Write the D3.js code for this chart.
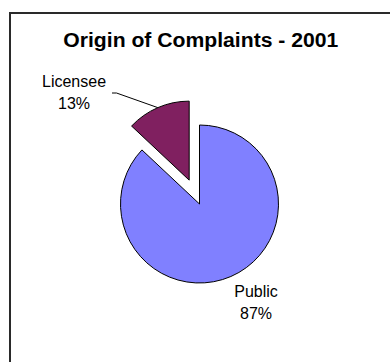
<!DOCTYPE html>
<html>
<head>
<meta charset="utf-8">
<script src="https://cdn.jsdelivr.net/npm/d3@7/dist/d3.min.js"></script>
<style>
  html, body { margin: 0; padding: 0; background: #fff; }
  svg { display: block; }
  text { font-family: Arial, "Liberation Sans", sans-serif; fill: #000; }
</style>
</head>
<body>
<svg id="chart" width="390" height="362"></svg>
<script>
// Complaint origins, 2001 (percent of all complaints)
const categories = ["Public", "Licensee"];
const values = [87, 13];
const colors = ["#8080FF", "#802060"];
const chartTitle = "Origin of Complaints - 2001";

const svg = d3.select("#chart");
const W = 390, H = 362;

// Chart frame (extends past the right and bottom edges of the page)
svg.append("rect")
  .attr("x", 10).attr("y", 13)
  .attr("width", W + 20).attr("height", H + 20)
  .attr("fill", "#fff")
  .attr("stroke", "#2a2a2a")
  .attr("stroke-width", 2);

svg.append("text")
  .attr("x", 200.8).attr("y", 47)
  .attr("text-anchor", "middle")
  .attr("font-size", 19.5)
  .attr("font-weight", "bold")
  .attr("textLength", 275)
  .attr("lengthAdjust", "spacingAndGlyphs")
  .text(chartTitle);

const cx = 199.5, cy = 204, r = 79, explode = 26;

const pie = d3.pie().sort(null).value(d => d.value);
const arcs = pie(categories.map((c, i) => ({ name: c, value: values[i], color: colors[i] })));
const arc = d3.arc().innerRadius(0).outerRadius(r);

const total = d3.sum(values);
const mid = d => (d.startAngle + d.endAngle) / 2;
// Licensee slice is pulled out of the pie
const offset = d => d.data.name === "Licensee"
  ? [Math.sin(mid(d)) * explode, -Math.cos(mid(d)) * explode]
  : [0, 0];

const g = svg.append("g").attr("transform", `translate(${cx},${cy})`);

g.selectAll("path.slice")
  .data(arcs)
  .join("path")
  .attr("class", "slice")
  .attr("transform", d => `translate(${offset(d)})`)
  .attr("d", arc)
  .attr("fill", d => d.data.color)
  .attr("stroke", "#000")
  .attr("stroke-width", 1)
  .attr("stroke-linejoin", "miter");

// Data labels: name on first line, percentage below
const labelPos = {
  Public:   { x: 56.5, y: 92.5 },
  Licensee: { x: -125.5, y: -117.5 }
};
const fmtPct = d => Math.round(d.data.value / total * 100) + "%";

const labels = g.selectAll("g.label")
  .data(arcs)
  .join("g")
  .attr("class", "label")
  .attr("transform", d => `translate(${labelPos[d.data.name].x},${labelPos[d.data.name].y})`);

labels.append("text")
  .attr("text-anchor", "middle")
  .attr("font-size", 16)
  .attr("y", 0)
  .text(d => d.data.name);

labels.append("text")
  .attr("text-anchor", "middle")
  .attr("font-size", 16)
  .attr("y", 22.8)
  .text(fmtPct);

// Leader line from the Licensee label to its slice
const lic = arcs.find(d => d.data.name === "Licensee");
const lo = offset(lic);
const edge = [lo[0] + Math.sin(mid(lic)) * r, lo[1] - Math.cos(mid(lic)) * r];
const start = [labelPos.Licensee.x + 38, labelPos.Licensee.y + 6.5];
g.append("polyline")
  .attr("points", [start, [start[0] + 4.5, start[1]], edge].map(p => p.join(",")).join(" "))
  .attr("fill", "none")
  .attr("stroke", "#000")
  .attr("stroke-width", 1);
</script>
</body>
</html>
